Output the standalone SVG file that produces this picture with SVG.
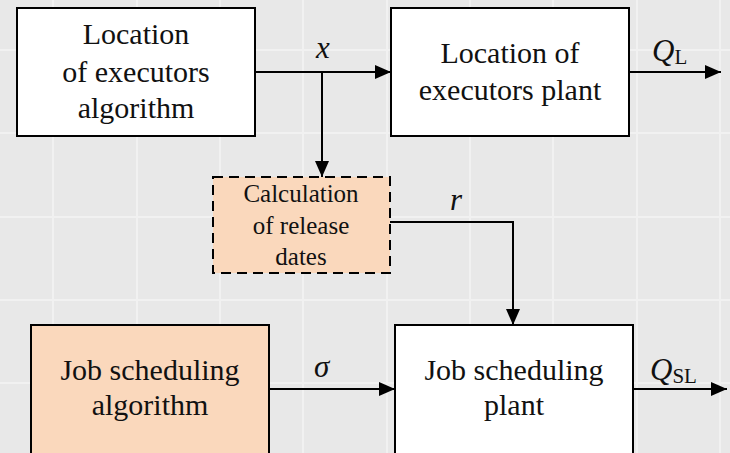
<svg xmlns="http://www.w3.org/2000/svg" width="730" height="453" viewBox="0 0 730 453">
<style>
.box{stroke:#000;stroke-width:2;fill:#fff}
.peach{fill:#fad8bc}
.dash{stroke-dasharray:10 6}
text{font-family:'Liberation Serif','DejaVu Serif',serif;fill:#111}
.t{font-size:30px;text-anchor:middle}
.s{font-size:25px}
.m{font-style:italic;font-size:31px}
.sub{font-size:21px;font-style:normal}
.c{stroke:#000;stroke-width:2;fill:none}
.g{stroke:#f1f1f1;stroke-width:2}
</style>
<defs>
<marker id="ah" markerWidth="16" markerHeight="14" refX="16" refY="7" orient="auto" markerUnits="userSpaceOnUse">
<path d="M0,0 L16,7 L0,14 Z" fill="#000"/>
</marker>
</defs>
<rect width="730" height="453" fill="#e8e8e8"/>
<g id="grid">
<path class="g" d="M53,0V453M137,0V453M220,0V453M303,0V453M387,0V453M470,0V453M553,0V453M637,0V453M720,0V453M0,50H730M0,133H730M0,217H730M0,300H730M0,383H730"/>
</g>
<g id="connectors">
<path class="c" d="M255,72H391" marker-end="url(#ah)"/>
<path class="c" d="M322,72V177" marker-end="url(#ah)"/>
<path class="c" d="M629,72H721" marker-end="url(#ah)"/>
<path class="c" d="M390,222H513V325" marker-end="url(#ah)"/>
<path class="c" d="M269,389H395" marker-end="url(#ah)"/>
<path class="c" d="M633,389H727" marker-end="url(#ah)"/>
<text class="m" x="316" y="58">x</text>
<text class="m" x="652" y="61">Q<tspan class="sub" dy="3">L</tspan></text>
<text class="m" x="450" y="210">r</text>
<text class="m" x="314" y="377">σ</text>
<text class="m" x="650" y="380">Q<tspan class="sub" dy="3">SL</tspan></text>
</g>
<g id="loc-alg">
<rect class="box" x="17" y="8" width="238" height="128"/>
<text class="t" x="136" y="44">Location</text>
<text class="t" x="136" y="82">of executors</text>
<text class="t" x="136" y="118">algorithm</text>
</g>
<g id="loc-plant">
<rect class="box" x="391" y="8" width="238" height="128"/>
<text class="t" x="510" y="63">Location of</text>
<text class="t" x="510" y="100">executors plant</text>
</g>
<g id="release">
<rect class="box peach dash" x="213" y="177" width="177" height="96"/>
<text class="t s" x="301" y="202">Calculation</text>
<text class="t s" x="301" y="234">of release</text>
<text class="t s" x="301" y="265">dates</text>
</g>
<g id="job-alg">
<rect class="box peach" x="31" y="325" width="238" height="140"/>
<text class="t" x="150" y="380">Job scheduling</text>
<text class="t" x="150" y="415">algorithm</text>
</g>
<g id="job-plant">
<rect class="box" x="395" y="325" width="238" height="140"/>
<text class="t" x="514" y="380">Job scheduling</text>
<text class="t" x="514" y="415">plant</text>
</g>
</svg>
